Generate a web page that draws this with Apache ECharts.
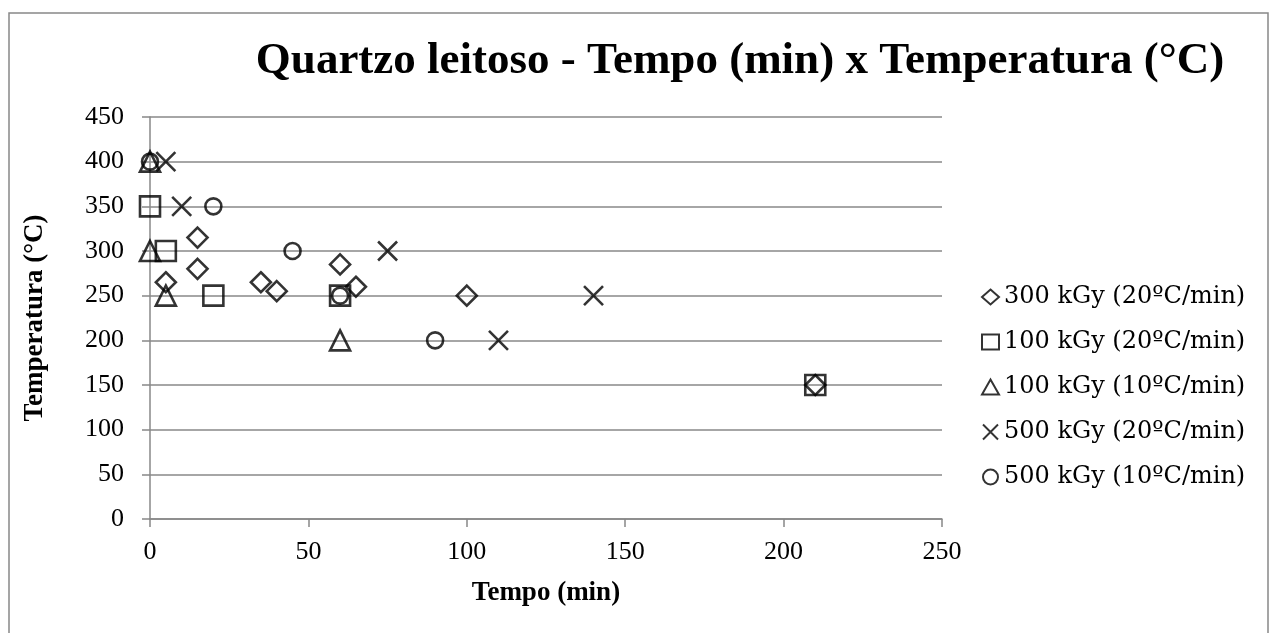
<!DOCTYPE html>
<html>
<head>
<meta charset="utf-8">
<script src="https://cdn.jsdelivr.net/npm/echarts@6/dist/echarts.min.js"></script>
<style>
  html, body { margin: 0; padding: 0; background: #fff; }
  #chart { width: 1276px; height: 633px; }
</style>
</head>
<body>
<div id="chart"></div>
<script>
// Tempo (min), Temperatura (°C) per amostra
let d300_20 = [[15, 315], [15, 280], [5, 265], [35, 265], [40, 255], [60, 285], [65, 260], [100, 250], [210, 150]]
let d100_20 = [[0, 350], [5, 300], [20, 250], [60, 250], [210, 150]]
let d100_10 = [[0, 400], [0, 300], [5, 250], [60, 200]]
let d500_20 = [[5, 400], [10, 350], [75, 300], [110, 200], [140, 250]]
let d500_10 = [[0, 400], [20, 350], [45, 300], [60, 250], [90, 200]]

let seriesNames = ['300 kGy (20ºC/min)', '100 kGy (20ºC/min)', '100 kGy (10ºC/min)', '500 kGy (20ºC/min)', '500 kGy (10ºC/min)']

const font = 'Liberation Serif'
const crossPath = 'path://M0,0L10,10M10,0L0,10'

let mkSeries = (name, data, symbol, size) => ({
  name: name,
  type: 'scatter',
  data: data,
  symbol: symbol,
  symbolSize: size,
  itemStyle: { color: 'transparent', borderColor: '#000', borderWidth: 2.6 },
  emphasis: { disabled: true }
})

let chart = echarts.init(document.getElementById('chart'))
chart.setOption({
  animation: false,
  backgroundColor: '#fff',
  graphic: [{
    type: 'rect',
    shape: { x: 9, y: 13, width: 1259, height: 640 },
    style: { fill: 'none', stroke: '#888', lineWidth: 1.5 },
    silent: true
  }],
  title: {
    text: 'Quartzo leitoso - Tempo (min) x Temperatura (°C)',
    left: 735,
    textAlign: 'center',
    top: 34,
    textStyle: { fontFamily: font, fontWeight: 'bold', fontSize: 45, color: '#000' }
  },
  grid: { left: 150, right: 334, top: 117, bottom: 114 },
  legend: {
    orient: 'vertical',
    left: 976,
    top: 280,
    itemGap: 21,
    itemWidth: 17,
    itemHeight: 15,
    data: seriesNames,
    textStyle: { fontFamily: 'DejaVu Serif', fontSize: 24, lineHeight: 24, color: '#000', padding: [0, 0, 0, 0] }
  },
  xAxis: {
    type: 'value',
    min: 0, max: 250, interval: 50,
    name: 'Tempo (min)',
    nameLocation: 'middle',
    nameGap: 61,
    nameTextStyle: { fontFamily: font, fontWeight: 'bold', fontSize: 27, color: '#000' },
    axisLine: { lineStyle: { color: '#888', width: 1.5 } },
    axisTick: { show: true, length: 8, lineStyle: { color: '#888', width: 1.5 } },
    axisLabel: { fontFamily: font, fontSize: 26, color: '#000', margin: 20 },
    splitLine: { show: false }
  },
  yAxis: {
    type: 'value',
    min: 0, max: 450, interval: 50,
    name: 'Temperatura (°C)',
    nameLocation: 'middle',
    nameGap: 101,
    nameTextStyle: { fontFamily: font, fontWeight: 'bold', fontSize: 27, color: '#000' },
    axisLine: { show: true, lineStyle: { color: '#888', width: 1.5 } },
    axisTick: { show: true, length: 8, lineStyle: { color: '#888', width: 1.5 } },
    axisLabel: { fontFamily: font, fontSize: 26, color: '#000', margin: 26 },
    splitLine: { lineStyle: { color: '#888', width: 1.5 } }
  },
  series: [
    mkSeries(seriesNames[0], d300_20, 'diamond', 20),
    mkSeries(seriesNames[1], d100_20, 'rect', 20),
    mkSeries(seriesNames[2], d100_10, 'triangle', 20),
    mkSeries(seriesNames[3], d500_20, crossPath, 19),
    mkSeries(seriesNames[4], d500_10, 'circle', 16)
  ]
})
</script>
</body>
</html>
